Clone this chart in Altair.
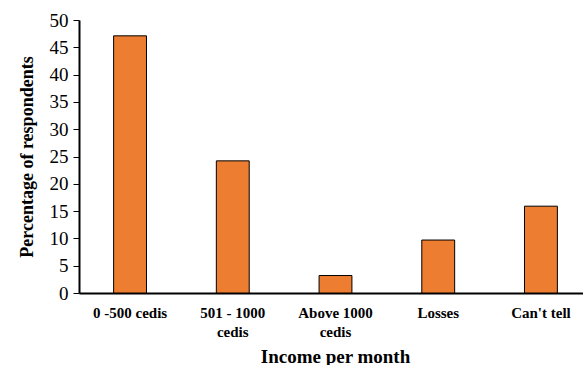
import altair as alt
import pandas as pd

categories = ["0 -500 cedis", "501 - 1000 cedis", "Above 1000 cedis", "Losses", "Can't tell"]
values = [47.1, 24.2, 3.2, 9.7, 15.9]
y_ticks = [0, 5, 10, 15, 20, 25, 30, 35, 40, 45, 50]

df = pd.DataFrame({"cat": categories, "val": values})

label_expr = ("datum.value == '501 - 1000 cedis' ? ['501 - 1000', 'cedis'] : "
              "datum.value == 'Above 1000 cedis' ? ['Above 1000', 'cedis'] : datum.value")

font = "Times New Roman"

chart = alt.Chart(df).mark_bar(color="#ED7D31", stroke="#000000", strokeWidth=1).encode(
    x=alt.X("cat:N", sort=categories,
            scale=alt.Scale(range=[0, 513], paddingInner=0.68, paddingOuter=0.337),
            axis=alt.Axis(title="Income per month", labelAngle=0, ticks=False,
                          domainColor="#000000", domainWidth=2,
                          labelExpr=label_expr, labelFontSize=15,
                          labelFontWeight="bold", labelColor="#000000", labelPadding=19,
                          labelLineHeight=19, labelBaseline="middle", labelOverlap=False,
                          titleFontSize=19, titleFontWeight="bold",
                          titleColor="#000000", titlePadding=8, titleX=256)),
    y=alt.Y("val:Q", scale=alt.Scale(domain=[0, 50], nice=False),
            axis=alt.Axis(title="Percentage of respondents", values=y_ticks,
                          grid=False, domainColor="#000000", domainWidth=2,
                          tickColor="#000000", tickSize=6, tickWidth=1,
                          labelFontSize=19, labelColor="#000000",
                          labelPadding=5, labelOverlap=False,
                          titleFontSize=18, titleFontWeight="bold",
                          titleColor="#000000", titlePadding=13)),
).properties(
    width=504, height=273,
    autosize=alt.AutoSizeParams(type="none"),
    padding={"left": 79, "top": 20, "right": 0, "bottom": 72},
).configure(background="white", font=font).configure_view(stroke=None).configure_axis(
    labelFont=font, titleFont=font
)

chart.save("out.html", embed_options={"renderer": "svg", "actions": False})
